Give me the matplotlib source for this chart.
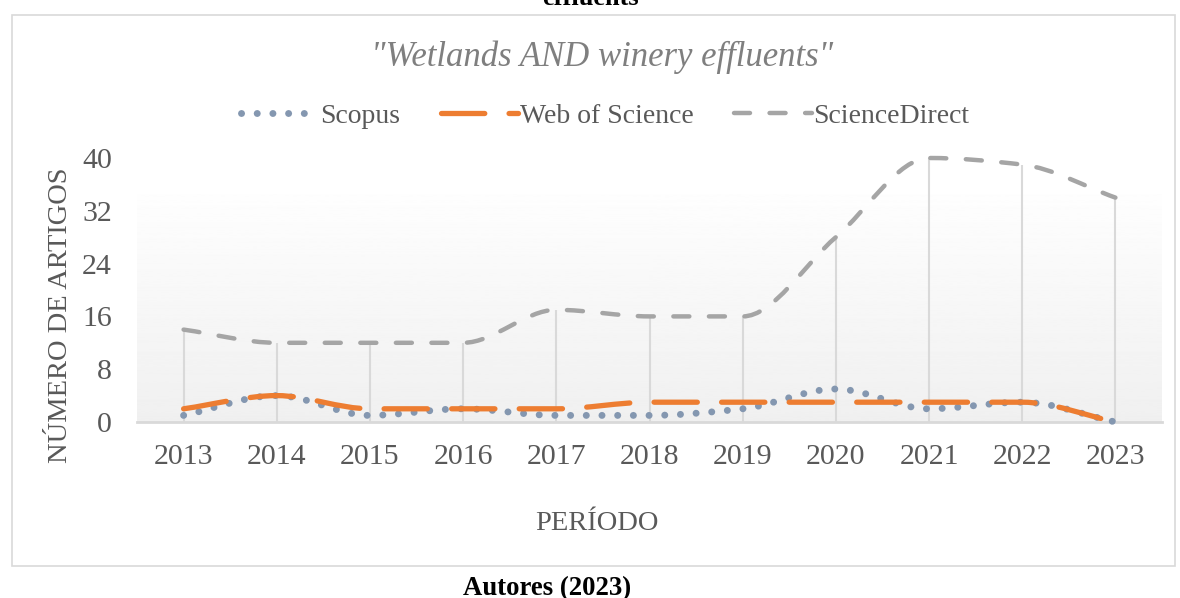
import numpy as np
import matplotlib
matplotlib.use("Agg")
import matplotlib.pyplot as plt
from matplotlib.path import Path
from matplotlib.patches import PathPatch, Rectangle
from matplotlib.lines import Line2D

# --- datos ---
anos = ["2013", "2014", "2015", "2016", "2017", "2018", "2019", "2020", "2021", "2022", "2023"]
scopus = [1, 4, 1, 2, 1, 1, 2, 5, 2, 3, 0]
web_of_science = [2, 4, 2, 2, 2, 3, 3, 3, 3, 3, 0]
science_direct = [14, 12, 12, 12, 17, 16, 16, 28, 40, 39, 34]
yticks = [0, 8, 16, 24, 32, 40]

plt.rcParams["font.family"] = ["Liberation Serif", "DejaVu Serif"]
gris_txt = "#595959"


def curva_suave(xs, ys):
    # curva suavizada que pasa por los puntos, sin sobrepasarlos (tangentes monótonas)
    xs = np.asarray(xs, float)
    ys = np.asarray(ys, float)
    n = len(xs)
    d = np.diff(ys) / np.diff(xs)
    m = np.zeros(n)
    m[0], m[-1] = d[0], d[-1]
    for i in range(1, n - 1):
        if d[i - 1] * d[i] > 0:
            m[i] = 2.0 / (1.0 / d[i - 1] + 1.0 / d[i])
    verts = [(xs[0], ys[0])]
    codes = [Path.MOVETO]
    for i in range(n - 1):
        h = xs[i + 1] - xs[i]
        verts += [(xs[i] + h / 3, ys[i] + m[i] * h / 3),
                  (xs[i + 1] - h / 3, ys[i + 1] - m[i + 1] * h / 3),
                  (xs[i + 1], ys[i + 1])]
        codes += [Path.CURVE4] * 3
    return Path(verts, codes)


fig = plt.figure(figsize=(11.8, 5.98), dpi=100)
W, H = 1180, 598

# marco del gráfico
fig.patches.append(Rectangle((12 / W, 1 - 566 / H), 1175 / W - 12 / W, (566 - 15) / H,
                             transform=fig.transFigure, fill=False,
                             edgecolor="#d9d9d9", linewidth=1.2))

ax = fig.add_axes([137 / W, 1 - 422 / H, (1162 - 137) / W, (422 - 158) / H])
x = np.arange(len(anos))
ax.patch.set_alpha(0)

# fondo degradado del área de trazado
grad = np.linspace(0.94, 0.995, 256).reshape(-1, 1)
ax.imshow(grad, extent=(-0.5, len(anos) - 0.5, 0, 34.4), cmap="gray", vmin=0, vmax=1,
          aspect="auto", origin="lower", zorder=0)
ax.set_xlim(-0.5, len(anos) - 0.5)
ax.set_ylim(0, 40)

# líneas de proyección
ax.vlines(x, 0, science_direct, color="#d9d9d9", linewidth=1.5, zorder=1)

series = [
    (scopus, "#8497b0", 5.0, (0, (0.01, 2.25)), "Scopus"),
    (web_of_science, "#ed7d31", 3.8, (0, (8.2, 4.6)), "Web of Science"),
    (science_direct, "#a5a5a5", 3.2, (0, (3.6, 4.4)), "ScienceDirect"),
]
handles = []
for i, (vals, col, lw, ls, nombre) in enumerate(series):
    pp = PathPatch(curva_suave(x, vals), fill=False, edgecolor=col, linewidth=lw,
                   linestyle=ls, capstyle="round", joinstyle="round", zorder=3 + i,
                   clip_on=False)
    ax.add_patch(pp)
    h = Line2D([], [], color=col, linewidth=lw, linestyle=ls,
               solid_capstyle="round", dash_capstyle="round", label=nombre)
    handles.append(h)

for s in ["top", "right", "left"]:
    ax.spines[s].set_visible(False)
ax.spines["bottom"].set_color("#d9d9d9")
ax.spines["bottom"].set_linewidth(2)
ax.spines["bottom"].set_zorder(2)

ax.set_xticks(x)
ax.set_xticklabels(anos)
ax.set_yticks(yticks)
ax.tick_params(axis="both", length=0, labelsize=21.5, labelcolor=gris_txt)
ax.tick_params(axis="x", pad=16)
ax.tick_params(axis="y", pad=18)

ax.set_ylabel("NÚMERO DE ARTIGOS", fontsize=20.5, color=gris_txt)
ax.yaxis.set_label_coords((61 - 137) / (1162 - 137), (422 - 315) / (422 - 158))
ax.set_xlabel("PERÍODO", fontsize=20.5, color=gris_txt)
ax.xaxis.set_label_coords((597 - 137) / (1162 - 137), (422 - 523) / (422 - 158))
ax.xaxis.label.set_va("center")
ax.yaxis.label.set_va("center")

fig.text(602 / W, 1 - 57 / H, "\"Wetlands AND winery effluents\"", fontsize=25,
         style="italic", color="#7f7f7f", ha="center", va="center")

fig.legend(handles=handles, loc="center", bbox_to_anchor=(605 / W, 1 - 116 / H),
           ncol=3, frameon=False, fontsize=20, handlelength=2.8, columnspacing=1.45,
           handletextpad=0.05, labelcolor=gris_txt)

fig.text(590 / W, 1 - 5 / H, "effluents", fontsize=19, fontweight="bold",
         ha="center", va="baseline", color="black")
fig.text(547 / W, 1 - 589 / H, "Autores (2023)", fontsize=19.3, fontweight="bold",
         ha="center", va="center", color="black")

fig.savefig("out.png", dpi=100, facecolor="white")
